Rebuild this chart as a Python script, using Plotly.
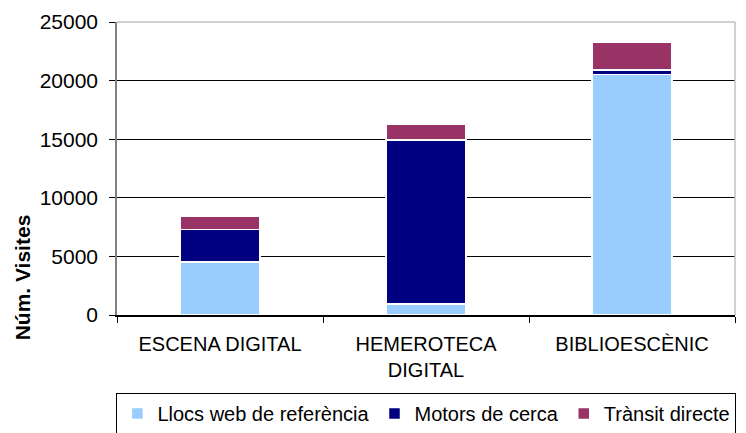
import plotly.graph_objects as go

# data
categories = ["ESCENA DIGITAL", "HEMEROTECA<br>DIGITAL", "BIBLIOESCÈNIC"]
llocs_web = [4540, 960, 20500]
motors_cerca = [2760, 13970, 400]
transit_directe = [1100, 1310, 2330]
series_names = ["Llocs web de referència", "Motors de cerca", "Trànsit directe"]
y_ticks = [0, 5000, 10000, 15000, 20000, 25000]

colors = ["#99CCFF", "#000080", "#993366"]
FONT = "Liberation Sans, Arial, sans-serif"

fig = go.Figure()
for name, vals, c in zip(series_names, [llocs_web, motors_cerca, transit_directe], colors):
    fig.add_trace(go.Bar(x=categories, y=vals, name=name, marker=dict(color=c, line=dict(color="white", width=1.5))))

# page body has an 8px margin, so figure is 8px smaller than the window
fig.update_layout(
    width=738, height=425, barmode="stack", bargap=0.61,
    margin=dict(l=109, r=11, t=14, b=118, autoexpand=False),
    paper_bgcolor="white", plot_bgcolor="white",
    font=dict(family=FONT, color="black", size=20),
    legend=dict(orientation="h", x=-0.001, xanchor="left", y=-0.266, yanchor="top",
                traceorder="normal", bordercolor="black", borderwidth=1,
                font=dict(size=20), bgcolor="white"),
    showlegend=True,
)
fig.update_xaxes(type="category", showline=True, linecolor="black", linewidth=1.5,
                 ticks="outside", tickson="boundaries", ticklen=6, tickcolor="black",
                 tickfont=dict(size=20), ticklabelstandoff=10, showgrid=False)
fig.update_yaxes(range=[0, 25000], tickvals=y_ticks, tickformat="d", showgrid=True, gridcolor="black", gridwidth=1,
                 showline=True, linecolor="#808080", linewidth=1.5, ticks="outside", ticklen=6,
                 tickcolor="black", tickfont=dict(size=21), ticklabelstandoff=7, zeroline=False)

# axis title sits low in the original, so put it as an annotation
fig.add_annotation(text="<b>Núm. Visites</b>", textangle=-90, xref="paper", yref="paper",
                   x=-0.153, y=0.13, xanchor="center", yanchor="middle", showarrow=False,
                   font=dict(size=21, family=FONT))
# grey frame at top and right of the plot area
fig.add_shape(type="line", xref="paper", yref="paper", x0=0, x1=1, y0=1, y1=1, line=dict(color="#c0c0c0", width=1.5))
fig.add_shape(type="line", xref="paper", yref="paper", x0=1, x1=1, y0=0, y1=1, line=dict(color="#c0c0c0", width=1.5))

fig.write_html("out.html")
